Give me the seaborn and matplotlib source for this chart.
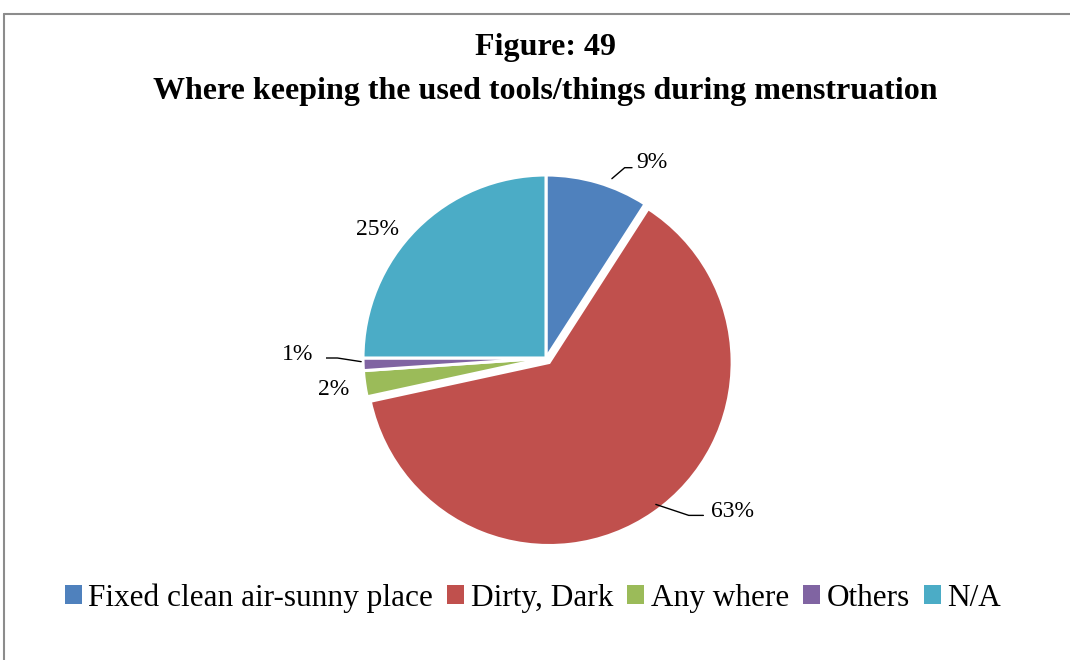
import matplotlib
matplotlib.use('Agg')
import matplotlib.pyplot as plt
from matplotlib.patches import Patch
from matplotlib.lines import Line2D
import seaborn as sns
import numpy as np

# Datos
categories = ['Fixed clean air-sunny place', 'Dirty, Dark', 'Any where', 'Others', 'N/A']
shares = [9.1, 62.5, 2.3, 1.1, 25.0]
pct_labels = ['9%', '63%', '2%', '1%', '25%']
colors = ['#4F81BD', '#C0504D', '#9BBB59', '#8064A2', '#4BACC6']

# Posiciones de etiquetas (radio = 1) y líneas guía
label_pos = [(0.58, 1.07), (1.02, -0.84), (-1.16, -0.17), (-1.36, 0.02), (-0.92, 0.70)]
leader = [((0.36, 0.98), (0.43, 1.04), (0.47, 1.04)),
          ((0.60, -0.80), (0.78, -0.86), (0.86, -0.86)),
          None,
          ((-1.01, -0.02), (-1.14, 0.00), (-1.24, 0.00)),
          None]

sns.set_theme(style='white')
plt.rcParams['font.family'] = ['Liberation Serif', 'DejaVu Serif']

W, H = 1070, 660
fig = plt.figure(figsize=(W / 100, H / 100), dpi=100)

# Ejes de la gráfica: centro (546, 358) px, radio 183 px
R = 183
cx, cy = 546, 358
half = 220
ax = fig.add_axes([(cx - half) / W, (H - cy - half) / H, 2 * half / W, 2 * half / H])
lim = half / R

ax.pie(shares, colors=colors, startangle=90, counterclock=False,
       explode=[0, 0.03, 0, 0, 0], radius=1, center=(0, 0), frame=True,
       wedgeprops=dict(edgecolor='white', linewidth=2.2))
ax.set_xlim(-lim, lim)
ax.set_ylim(-lim, lim)
ax.set_aspect('equal')
ax.axis('off')

for txt, pos, ld in zip(pct_labels, label_pos, leader):
    ax.text(pos[0], pos[1], txt, ha='center', va='center', fontsize=17, color='black')
    if ld is not None:
        xs = [p[0] for p in ld]
        ys = [p[1] for p in ld]
        ax.plot(xs, ys, color='black', lw=1)

# Título
fig.text(0.51, 1 - 48 / H, 'Figure: 49', ha='center', va='center',
         fontsize=23, fontweight='bold', color='black')
fig.text(0.51, 1 - 92 / H, 'Where keeping the used tools/things during menstruation',
         ha='center', va='center', fontsize=23, fontweight='bold', color='black')

# Leyenda
handles = [Patch(facecolor=c, edgecolor='none') for c in colors]
fig.legend(handles, categories, loc='center', bbox_to_anchor=(0.498, 1 - 598 / H),
           ncol=5, frameon=False, fontsize=22.5, handlelength=0.55, handleheight=0.55,
           handletextpad=0.2, columnspacing=0.45, labelcolor='black')

# Marco
fig.add_artist(Line2D([4 / W, 4 / W], [0, 1 - 14 / H], color='#8c8c8c', lw=1.5))
fig.add_artist(Line2D([4 / W, 1], [1 - 14 / H, 1 - 14 / H], color='#8c8c8c', lw=1.5))

fig.savefig('out.png', dpi=100, facecolor='white')
